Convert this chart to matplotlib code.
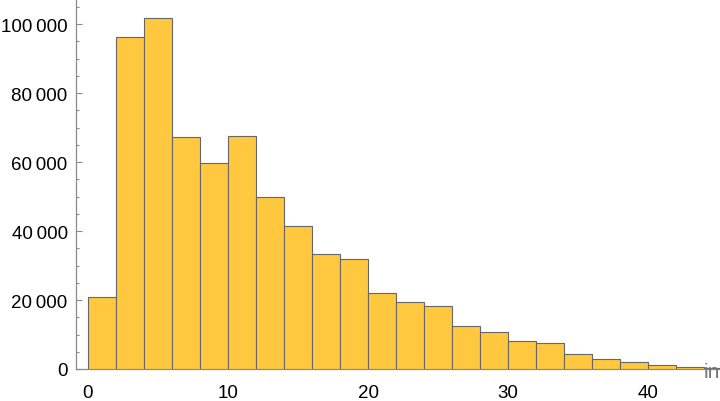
import matplotlib
matplotlib.use("Agg")
import matplotlib.pyplot as plt
from matplotlib.ticker import FuncFormatter, MultipleLocator

# Data (bin width 2)
bin_edges_left = [0, 2, 4, 6, 8, 10, 12, 14, 16, 18, 20, 22, 24, 26, 28, 30, 32, 34, 36, 38, 40, 42, 44]
counts = [20900, 96100, 101600, 67200, 59600, 67500, 50000, 41400, 33200, 31800,
          21900, 19300, 18400, 12600, 10600, 8000, 7400, 4300, 2800, 1900, 1070, 500, 200]
x_tick_values = [0, 10, 20, 30, 40]
y_tick_values = [0, 20000, 40000, 60000, 80000, 100000]
x_axis_label = "in"

W, H = 720, 402
fig = plt.figure(figsize=(W / 100, H / 100), dpi=100)
ax = fig.add_axes([76 / W, (H - 370) / H, (W - 76) / W, 370 / H])

ax.bar(bin_edges_left, counts, width=2, align="edge",
       color="#FFC83F", edgecolor="#666666", linewidth=0.8, zorder=3)

ax.set_xlim(-0.857, 45.14)
ax.set_ylim(0, 107250)

for s in ["top", "right"]:
    ax.spines[s].set_visible(False)
for s in ["left", "bottom"]:
    ax.spines[s].set_color("#8a8a8a")
    ax.spines[s].set_linewidth(0.9)

ax.set_xticks(x_tick_values)
ax.set_yticks(y_tick_values)
ax.yaxis.set_minor_locator(MultipleLocator(5000))

def fmt(v, pos):
    v = int(round(v))
    if v >= 1000:
        return f"{v // 1000}\u2009{v % 1000:03d}"
    return str(v)

ax.yaxis.set_major_formatter(FuncFormatter(fmt))

font = "Liberation Sans"
ax.tick_params(axis="x", length=0, pad=11, labelsize=13.5)
ax.tick_params(axis="y", which="major", direction="in", length=4, width=0.8,
               color="#8a8a8a", pad=6, labelsize=13.5)
ax.tick_params(axis="y", which="minor", direction="in", length=2.5, width=0.8,
               color="#8a8a8a")
for lab in ax.get_xticklabels() + ax.get_yticklabels():
    lab.set_fontfamily(font)

ax.text(1.0, -3 / 370, x_axis_label, transform=ax.transAxes, ha="right", va="center",
        fontsize=15, color="#777777", fontfamily=font, clip_on=False, zorder=5)

fig.savefig("out.png", dpi=100)
